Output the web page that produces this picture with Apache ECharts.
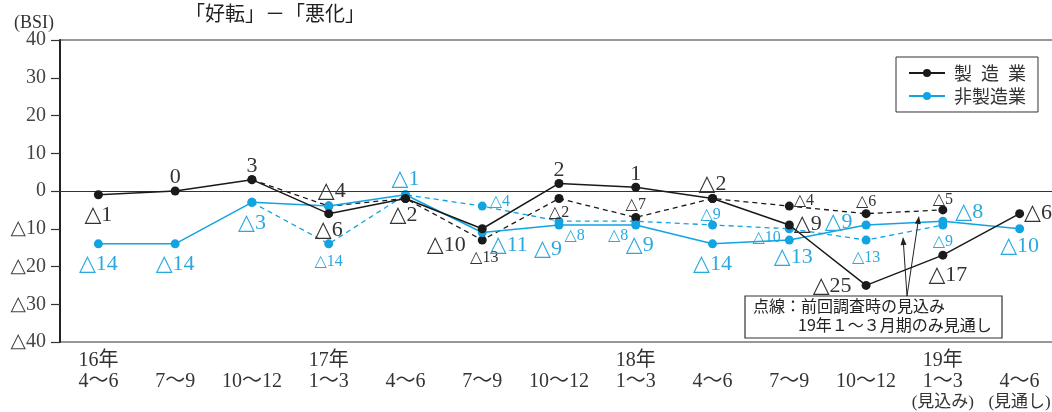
<!DOCTYPE html>
<html><head><meta charset="utf-8">
<script src="https://cdn.jsdelivr.net/npm/echarts@6/dist/echarts.min.js"></script>
<style>html,body{margin:0;padding:0;background:#fff}#c{width:1052px;height:412px}</style>
</head><body><div id="c"></div>
<script>
// ---- data ----
const categories = ['16年\n4～6', '\n7～9', '\n10～12', '17年\n1～3', '\n4～6', '\n7～9', '\n10～12',
  '18年\n1～3', '\n4～6', '\n7～9', '\n10～12', '19年\n1～3\n(見込み)', '\n4～6\n(見通し)'];
const manufacturing = [-1, 0, 3, -6, -2, -10, 2, 1, -2, -9, -25, -17, -6];
const manufacturingPrev = [null, null, 3, -4, -2, -13, -2, -7, -2, -4, -6, -5, null];
const nonManufacturing = [-14, -14, -3, -4, -1, -11, -9, -9, -14, -13, -9, -8, -10];
const nonManufacturingPrev = [null, null, -3, -14, -1, -4, -8, -8, -9, -10, -13, -9, null];
const seriesNames = ['製\u2002造\u2002業', '非製造業'];
const yMin = -40, yMax = 40, yStep = 10;

// ---- label placement (style only) ----
const mfgPos = [['bottom',0,0],['top',0,7],['top',0,7],['bottom',0,-4],['bottom',-2,-4],['left',-7,16],['top',0,7],['top',0,7],['top',0,6],['right',-5,-1],['left',-5,1],['bottom',5,0],['right',-5,0]];
const mfgPrevPos = [null,null,null,['top',3,6,'big'],null,['bottom',2,0],['bottom',0,-3],['top',0,5],null,['right',-5,-5],['top',0,6],['top',0,7],null];
const nonPos = [['bottom',0,0],['bottom',0,0],['bottom',0,0],null,['top',0,5],['right',-2,13],['bottom',-11,4],['bottom',4,0],['bottom',0,0],['bottom',4,-3],['left',-4,-3],['right',3,-9],['bottom',0,-3]];
const nonPrevPos = [null,null,null,['bottom',0,0],null,['right',-2,-4],['right',-4,15],['left',2,15],['top',-2,7],['left',1,9],['bottom',0,0],['bottom',0,-1],null];

const FONT = "'Liberation Serif','DejaVu Sans','Noto Sans CJK JP',serif";
const JFONT = "'Noto Sans CJK JP',sans-serif";
const BLACK = '#1a1a1a', BLUE = '#12a3e3', BLACKTXT = '#333', BLUETXT = '#2aa9e0';
const fmt = v => (v < 0 ? '△' + (-v) : String(v));

function mkData(vals, pos, color, defSize) {
  return vals.map((v, i) => {
    if (v === null) return '-';
    const p = pos[i];
    if (!p) return { value: v, label: { show: false } };
    return { value: v, label: { show: true, position: p[0], offset: [p[1], p[2]],
      fontSize: p[3] === 'big' ? 22 : defSize, color: color, fontFamily: FONT,
      formatter: q => fmt(q.value) } };
  });
}

function arrow(x1, y1, x2, y2) {
  const a = Math.atan2(y2 - y1, x2 - x1), L = 8, W = 3;
  const bx = x2 - L * Math.cos(a), by = y2 - L * Math.sin(a);
  const px = -Math.sin(a) * W, py = Math.cos(a) * W;
  return [
    { type: 'line', z: 20, shape: { x1, y1, x2: bx, y2: by }, style: { stroke: '#222', lineWidth: 1 } },
    { type: 'polygon', z: 20, shape: { points: [[x2, y2], [bx + px, by + py], [bx - px, by - py]] }, style: { fill: '#222' } }
  ];
}

const chart = echarts.init(document.getElementById('c'));
const option = {
  backgroundColor: '#fff',
  animation: false,
  grid: { left: 60, top: 40, width: 998, height: 302, show: true, borderColor: '#333', borderWidth: 1.2,
    backgroundColor: 'transparent', containLabel: false, outerBoundsMode: 'none' },
  legend: {
    data: seriesNames, orient: 'vertical', left: 896, top: 57,
    padding: [7, 12, 7, 12], itemGap: 5, itemWidth: 36, itemHeight: 10,
    borderColor: '#333', borderWidth: 1, backgroundColor: '#fff',
    textStyle: { fontFamily: JFONT, fontSize: 18, color: '#333', padding: [0, 0, 0, 4] }
  },
  xAxis: {
    type: 'category', data: categories, boundaryGap: true,
    axisLine: { show: true, lineStyle: { color: '#333', width: 1.2 } },
    axisTick: { show: false },
    axisLabel: { interval: 0, fontFamily: FONT, fontSize: 20, lineHeight: 21, color: '#333', margin: 8,
      formatter: v => v.split('\n').map(l => l.charAt(0) === '(' ? '{s|' + l + '}' : l).join('\n'),
      rich: { s: { fontFamily: FONT, fontSize: 17, lineHeight: 21, color: '#333' } } }
  },
  yAxis: {
    type: 'value', min: yMin, max: yMax, interval: yStep,
    axisLine: { show: true, lineStyle: { color: '#222', width: 2 } },
    axisTick: { show: true, length: 9, lineStyle: { color: '#333', width: 1.2 } },
    splitLine: { show: false },
    axisLabel: { formatter: v => fmt(v), fontFamily: FONT, fontSize: 20, color: '#444', margin: 14 }
  },
  series: [
    { name: 'prevNon', type: 'line', data: mkData(nonManufacturingPrev, nonPrevPos, BLUETXT, 16),
      symbol: 'circle', symbolSize: 9, itemStyle: { color: BLUE }, lineStyle: { color: BLUE, width: 1.3, type: [5, 4] }, z: 2 },
    { name: 'prevMfg', type: 'line', data: mkData(manufacturingPrev, mfgPrevPos, BLACKTXT, 16),
      symbol: 'circle', symbolSize: 9, itemStyle: { color: BLACK }, lineStyle: { color: BLACK, width: 1.3, type: [5, 4] }, z: 3 },
    { name: seriesNames[1], type: 'line', data: mkData(nonManufacturing, nonPos, BLUETXT, 22),
      symbol: 'circle', symbolSize: 9, itemStyle: { color: BLUE }, lineStyle: { color: BLUE, width: 1.5 }, z: 4 },
    { name: seriesNames[0], type: 'line', data: mkData(manufacturing, mfgPos, BLACKTXT, 22),
      symbol: 'circle', symbolSize: 9, itemStyle: { color: BLACK }, lineStyle: { color: BLACK, width: 1.5 }, z: 5,
      markLine: { silent: true, symbol: 'none', label: { show: false }, lineStyle: { color: '#333', width: 1.2, type: 'solid' }, data: [{ yAxis: 0 }] } }
  ],
  graphic: [
    { type: 'text', left: 185, top: 3, z: 20, style: { text: '「好転」－「悪化」', font: '20px ' + JFONT, fill: '#222' } },
    { type: 'text', left: 14, top: 14, z: 20, style: { text: '(BSI)', font: '18px ' + FONT, fill: '#333' } },
    { type: 'rect', z: 19, shape: { x: 745, y: 296, width: 257, height: 42 }, style: { fill: '#fff', stroke: '#333', lineWidth: 1.2 } },
    { type: 'text', z: 20, x: 753, y: 298, style: { text: '点線：前回調査時の見込み', font: '16px ' + JFONT, fill: '#222' } },
    { type: 'text', z: 20, x: 798, y: 317, style: { text: '19年１～３月期のみ見通し', font: '16px ' + JFONT, fill: '#222' } },
    ...arrow(907, 296, 903, 237),
    ...arrow(907, 296, 919, 216)
  ]
};
chart.setOption(option);
</script></body></html>
